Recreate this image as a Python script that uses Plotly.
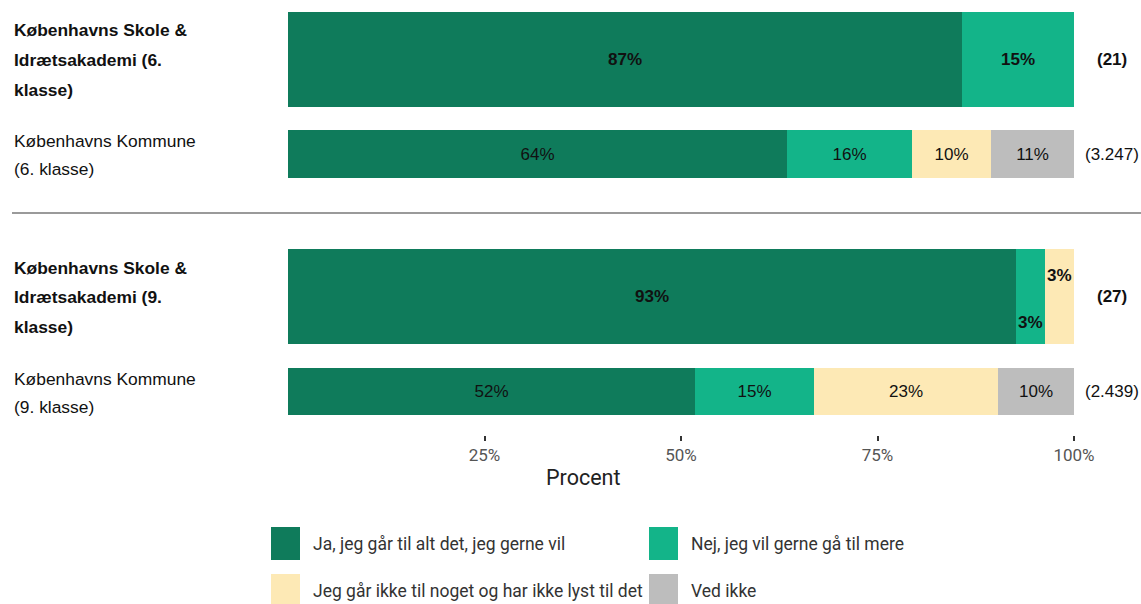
import plotly.graph_objects as go

# ---------------- data ----------------
categories = ["Ja, jeg går til alt det, jeg gerne vil",
              "Nej, jeg vil gerne gå til mere",
              "Jeg går ikke til noget og har ikke lyst til det",
              "Ved ikke"]
row_labels = [["Københavns Skole &", "Idrætsakademi (6.", "klasse)"],
              ["Københavns Kommune", "(6. klasse)"],
              ["Københavns Skole &", "Idrætsakademi (9.", "klasse)"],
              ["Københavns Kommune", "(9. klasse)"]]
row_bold = [True, False, True, False]
n_labels = ["(21)", "(3.247)", "(27)", "(2.439)"]

ja = [85.7, 63.5, 92.6, 51.8]
nej = [14.3, 15.9, 3.7, 15.1]
ikke = [0.0, 10.0, 3.7, 23.4]
ved = [0.0, 10.6, 0.0, 9.7]

ja_lbl = ["87%", "64%", "93%", "52%"]
nej_lbl = ["15%", "16%", "3%", "15%"]
ikke_lbl = ["", "10%", "3%", "23%"]
ved_lbl = ["", "11%", "", "10%"]

tick_vals = [25, 50, 75, 100]
tick_text = ["25%", "50%", "75%", "100%"]

# ---------------- layout constants ----------------
TW = 1141                   # target picture width
W, H = 1162, 604            # figure size (rendered width comes out ~1141)
PLOT_BOTTOM = 435           # pixel row of plot-area bottom
row_center = [59.5, 154, 296.5, 391.5]
row_width = [95, 48, 95, 47]
colors = ["#0F7B5B", "#13B489", "#FDE9B5", "#BDBDBD"]
LAB_FONT = "Liberation Sans, Arial, sans-serif"
UI_FONT = "Roboto, sans-serif"


def px(x):
    return x / TW


def py(y):
    return (PLOT_BOTTOM - y) / PLOT_BOTTOM


series = [ja, nej, ikke, ved]
labels = [ja_lbl, nej_lbl, ikke_lbl, ved_lbl]

fig = go.Figure()
for ci, (vals, lbls) in enumerate(zip(series, labels)):
    texts = []
    for ri, t in enumerate(lbls):
        if ri == 2 and ci in (1, 2):
            texts.append("")  # placed separately
        elif row_bold[ri] and t:
            texts.append("<b>" + t + "</b>")
        else:
            texts.append(t)
    fig.add_trace(go.Bar(
        x=vals, y=row_center, width=row_width, orientation="h",
        name=categories[ci], marker=dict(color=colors[ci], line=dict(width=0)),
        text=texts, textposition="inside", insidetextanchor="middle",
        textangle=0, constraintext="none",
        textfont=dict(family=LAB_FONT, size=17, color="#111111"),
        showlegend=False, hoverinfo="skip"))

annotations = []
# special small labels in row 3
ri = 2
top = row_center[ri] - row_width[ri] / 2
bot = row_center[ri] + row_width[ri] / 2
annotations.append(dict(x=ja[ri] + nej[ri] / 2, y=bot - 22, xref="x", yref="y",
                        text="<b>" + nej_lbl[ri] + "</b>", showarrow=False,
                        font=dict(family=LAB_FONT, size=17, color="#111111")))
annotations.append(dict(x=ja[ri] + nej[ri] + ikke[ri] / 2, y=top + 26, xref="x", yref="y",
                        text="<b>" + ikke_lbl[ri] + "</b>", showarrow=False,
                        font=dict(family=LAB_FONT, size=17, color="#111111")))

# row labels (left) and n labels (right)
for ri, lines in enumerate(row_labels):
    c = row_center[ri]
    if len(lines) == 3:
        offs = [-29, 0.5, 30]
    else:
        offs = [-13, 15]
    for line, o in zip(lines, offs):
        t = "<b>" + line + "</b>" if row_bold[ri] else line
        annotations.append(dict(x=px(12), y=py(c + o), xref="paper", yref="paper",
                                text=t, showarrow=False, xanchor="left", yanchor="middle",
                                font=dict(family=LAB_FONT, size=17.4, color="#111111")))
    t = "<b>" + n_labels[ri] + "</b>" if row_bold[ri] else n_labels[ri]
    annotations.append(dict(x=px(1112), y=py(c), xref="paper", yref="paper",
                            text=t, showarrow=False, xanchor="center", yanchor="middle",
                            font=dict(family=LAB_FONT, size=17, color="#111111")))

# axis title
annotations.append(dict(x=px(583), y=py(478), xref="paper", yref="paper", text="Procent",
                        showarrow=False, xanchor="center", yanchor="middle",
                        font=dict(family=UI_FONT, size=21.5, color="#222222")))

# custom legend
shapes = []
leg_pos = [(271, 527), (649, 527), (271, 574), (649, 574)]
for ci, (lx, ly) in enumerate(leg_pos):
    shapes.append(dict(type="rect", xref="paper", yref="paper",
                       x0=px(lx), x1=px(lx + 29), y0=py(ly), y1=py(ly + 33),
                       fillcolor=colors[ci], line=dict(width=0)))
    annotations.append(dict(x=px(lx + 40), y=py(ly + 17), xref="paper", yref="paper",
                            text=categories[ci], showarrow=False, xanchor="left",
                            yanchor="middle",
                            font=dict(family=UI_FONT, size=17.5, color="#333333")))

# separator line
shapes.append(dict(type="line", xref="paper", yref="paper", x0=px(12), x1=1,
                   y0=py(213), y1=py(213), line=dict(color="#9a9a9a", width=1.8)))

fig.update_layout(
    width=W, height=H, autosize=False, barmode="stack", bargap=0,
    margin=dict(l=0, r=0, t=0, b=H - PLOT_BOTTOM),
    plot_bgcolor="white", paper_bgcolor="white",
    xaxis=dict(domain=[px(288), px(1074)], range=[0, 100], tickvals=tick_vals,
               ticktext=tick_text, ticks="outside", ticklen=5, tickcolor="#333333",
               tickwidth=1.5, showgrid=False, zeroline=False, showline=False,
               tickfont=dict(family=UI_FONT, size=17, color="#555555"), fixedrange=True),
    yaxis=dict(range=[PLOT_BOTTOM, 0], visible=False, fixedrange=True),
    annotations=annotations, shapes=shapes,
)

fig.write_html(
    "out.html",
    config={"responsive": False, "displayModeBar": False},
    post_script=("document.body.style.margin='0';"
                 "document.body.style.overflow='hidden';"
                 "document.documentElement.style.overflow='hidden';"),
)
